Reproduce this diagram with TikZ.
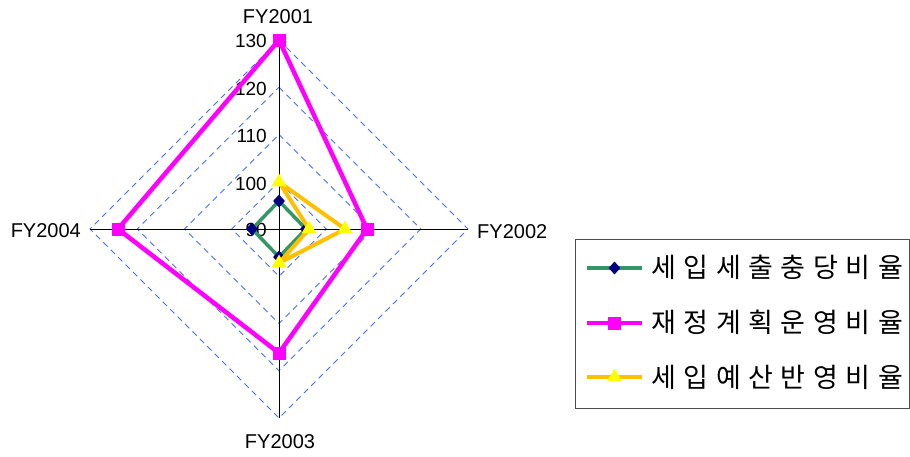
\documentclass[tikz,border=0pt]{standalone}
\usepackage{fontspec}
\setmainfont{Liberation Sans}
\newfontfamily\kr{Noto Sans CJK KR}
\usetikzlibrary{shapes.geometric}
\definecolor{gridblue}{RGB}{70,110,255}
\definecolor{sgreen}{RGB}{51,150,100}
\definecolor{navyc}{RGB}{0,0,128}
\definecolor{magc}{RGB}{255,0,255}
\definecolor{orgc}{RGB}{255,192,0}
\definecolor{yelc}{RGB}{255,255,0}
\begin{document}
\begin{tikzpicture}[x=1pt,y=-1pt,
  gridline/.style={gridblue,dash pattern=on 6pt off 4.5pt,line width=0.8pt},
  axisline/.style={black,line width=0.8pt},
  axlabel/.style={font=\fontsize{20}{20}\selectfont,inner sep=0pt},
  numlabel/.style={font=\fontsize{19}{19}\selectfont,inner sep=0pt,anchor=east},
  gline/.style={sgreen,line width=3.5pt},
  mline/.style={magc,line width=4.5pt},
  oline/.style={orgc,line width=4pt},
  dmark/.style={diamond,fill=navyc,inner sep=0pt,minimum width=12pt,minimum height=13pt},
  smark/.style={rectangle,fill=magc,inner sep=0pt,minimum size=13pt},
  tmark/.style={regular polygon,regular polygon sides=3,fill=yelc,inner sep=0pt,minimum size=17pt},
  legtext/.style={font=\kr\fontsize{27}{27}\selectfont,inner sep=0pt,anchor=west}
]
\useasboundingbox (0,0) rectangle (910,456);
% axis ends
\coordinate (C) at (279,229);
\coordinate (T) at (279,40);
\coordinate (R) at (468,229);
\coordinate (B) at (279,418);
\coordinate (L) at (90,229);
% grid diamonds
\foreach \r in {47.25,94.5,141.75,189}{
  \draw[gridline] (279,229-\r) -- (279+\r,229) -- (279,229+\r) -- (279-\r,229) -- cycle;
}
% axes
\draw[axisline] (C) -- (T);
\draw[axisline] (C) -- (R);
\draw[axisline] (C) -- (B);
\draw[axisline] (C) -- (L);
% axis labels
\node[axlabel] (l1) at (278,17) {FY2001};
\node[axlabel,anchor=west] (l2) at (477,232) {FY2002};
\node[axlabel] (l3) at (280,442) {FY2003};
\node[axlabel,anchor=east] (l4) at (81,231) {FY2004};
% value labels
\node[numlabel] (v130) at (267,41) {130};
\node[numlabel] (v120) at (267,89) {120};
\node[numlabel] (v110) at (267,136) {110};
\node[numlabel] (v100) at (267,184) {100};
\node[numlabel] (v90) at (267,230) {90};
% series 1
\coordinate (g1) at (279,201);
\coordinate (g2) at (306,229);
\coordinate (g3) at (279,257);
\coordinate (g4) at (252,229);
\draw[gline,line join=round] (g1) -- (g2) -- (g3) -- (g4) -- cycle;
\foreach \p in {g1,g2,g3,g4}{\node[dmark] at (\p) {};}
% series 2
\coordinate (m1) at (279,40);
\coordinate (m2) at (367,229);
\coordinate (m3) at (279,353);
\coordinate (m4) at (118,229);
\draw[mline,line join=round] (m1) -- (m2) -- (m3) -- (m4) -- cycle;
\foreach \p in {m1,m2,m3,m4}{\node[smark] at (\p) {};}
% series 3
\coordinate (o1) at (279,182);
\coordinate (o2) at (345,229);
\coordinate (o3) at (279,263);
\coordinate (o4) at (309,229);
\draw[oline,line join=round] (o1) -- (o2) -- (o3) -- (o4) -- cycle;
\foreach \p in {o1,o2,o3,o4}{\node[tmark] at (\p) {};}
% legend
\draw[black!70,line width=1pt] (575.5,239) rectangle (909.5,408);
\coordinate (a1) at (587,268); \coordinate (b1) at (642,268);
\coordinate (a2) at (587,323); \coordinate (b2) at (642,323);
\coordinate (a3) at (587,377); \coordinate (b3) at (642,377);
\draw[gline] (a1) -- (b1);
\node[dmark] (k1) at (614.5,268) {};
\draw[mline] (a2) -- (b2);
\node[smark] (k2) at (614.5,323) {};
\draw[oline] (a3) -- (b3);
\node[tmark] (k3) at (614.5,377) {};
\node[legtext] (t1) at (651,267) {\makebox[252pt][s]{세\hfill 입\hfill 세\hfill 출\hfill 충\hfill 당\hfill 비\hfill 율}};
\node[legtext] (t2) at (651,322) {\makebox[252pt][s]{재\hfill 정\hfill 계\hfill 획\hfill 운\hfill 영\hfill 비\hfill 율}};
\node[legtext] (t3) at (651,377) {\makebox[252pt][s]{세\hfill 입\hfill 예\hfill 산\hfill 반\hfill 영\hfill 비\hfill 율}};
\end{tikzpicture}
\end{document}
